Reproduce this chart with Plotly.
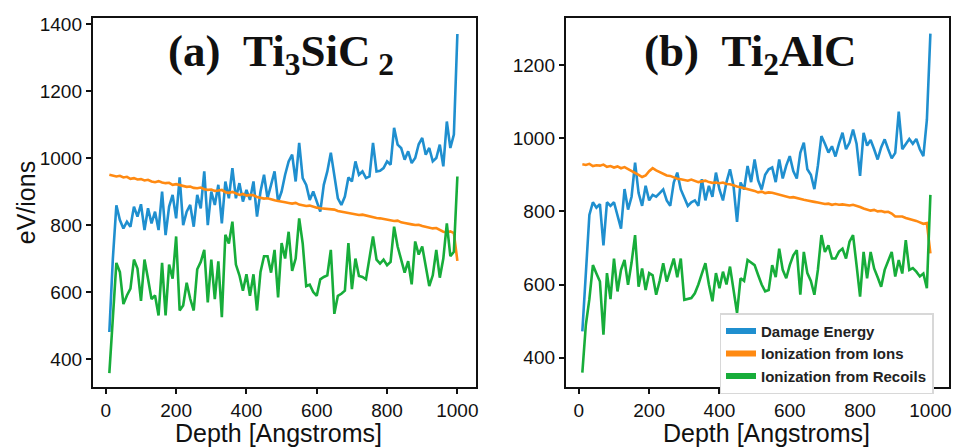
import plotly.graph_objects as go

depth = list(range(10, 1001, 10))

# (a) Ti3SiC2
damage_a = [481, 700, 859, 815, 790, 810, 795, 855, 825, 862,
            785, 850, 805, 840, 785, 900, 770, 855, 890, 820,
            942, 800, 840, 860, 795, 890, 850, 960, 800, 900,
            860, 920, 805, 930, 880, 970, 880, 925, 870, 905,
            875, 930, 825, 900, 950, 880, 920, 960, 870, 900,
            950, 990, 1010, 930, 1045, 940, 920, 875, 900, 870,
            840, 920, 960, 1016, 940, 880, 860, 885, 942, 930,
            990, 950, 960, 940, 945, 1045, 960, 962, 970, 990,
            980, 1090, 1040, 1030, 995, 1020, 985, 1000, 1041, 1060,
            1010, 1030, 990, 1000, 1040, 975, 1109, 1030, 1070, 1370]
ions_a = [950, 948, 945, 947, 942, 944, 938, 940, 936, 937,
          933, 935, 930, 928, 931, 927, 925, 926, 920, 922,
          919, 916, 914, 915, 911, 910, 912, 907, 905, 906,
          902, 903, 905, 898, 896, 899, 894, 890, 893, 888,
          890, 889, 884, 882, 879, 880, 876, 874, 872, 871,
          868, 866, 864, 866, 861, 859, 857, 858, 854, 852,
          850, 849, 847, 845, 846, 842, 840, 838, 837, 835,
          833, 830, 831, 828, 825, 824, 821, 820, 818, 816,
          815, 812, 813, 808, 806, 805, 802, 800, 801, 797,
          795, 793, 790, 791, 786, 780, 778, 781, 776, 693]
recoils_a = [358, 530, 687, 660, 564, 590, 610, 697, 670, 574,
             697, 640, 579, 590, 530, 687, 530, 682, 640, 766,
             545, 560, 628, 580, 545, 668, 690, 726, 569, 697,
             579, 692, 525, 771, 745, 810, 682, 650, 604, 653,
             589, 653, 545, 660, 707, 707, 658, 726, 584, 746,
             700, 780, 663, 700, 820, 745, 618, 622, 600, 589,
             638, 645, 650, 726, 535, 589, 595, 604, 746, 609,
             700, 648, 645, 638, 700, 766, 697, 685, 697, 680,
             690, 795, 736, 700, 658, 692, 623, 751, 712, 736,
             680, 618, 650, 726, 643, 700, 805, 707, 720, 945]

# (b) Ti2AlC
damage_b = [472, 640, 790, 825, 810, 820, 707, 825, 815, 825,
            790, 753, 861, 805, 840, 933, 850, 815, 870, 830,
            845, 840, 850, 860, 830, 815, 879, 906, 860, 835,
            815, 825, 830, 815, 888, 830, 870, 840, 906, 860,
            830, 880, 915, 870, 771, 879, 860, 924, 880, 942,
            885, 860, 900, 915, 920, 880, 942, 890, 925, 951,
            910, 890, 960, 988, 915, 900, 861, 925, 1006, 985,
            961, 978, 950, 985, 1015, 970, 988, 1024, 985, 897,
            1015, 980, 995, 970, 942, 975, 997, 970, 945, 960,
            1073, 970, 985, 998, 985, 998, 970, 951, 1050, 1286]
ions_b = [929, 927, 930, 924, 926, 925, 928, 922, 924, 920,
          923, 918, 921, 916, 912, 906, 900, 894, 898, 910,
          918, 912, 908, 904, 898, 897, 892, 889, 888, 885,
          884, 887, 884, 880, 882, 884, 880, 878, 879, 877,
          879, 875, 874, 870, 868, 866, 864, 862, 860, 856,
          852, 854, 850, 852, 851, 848, 846, 843, 840, 838,
          839, 836, 834, 832, 830, 829, 826, 824, 822, 820,
          821, 818, 820, 818, 819, 817, 816, 818, 816, 812,
          808, 806, 802, 804, 800, 801, 798, 799, 794, 786,
          785, 786, 782, 780, 778, 774, 770, 766, 768, 685]
recoils_b = [359, 490, 560, 653, 630, 608, 463, 631, 560, 671,
             581, 640, 667, 599, 660, 735, 594, 644, 585, 631,
             625, 572, 610, 658, 608, 640, 671, 620, 671, 558,
             560, 563, 576, 600, 630, 658, 600, 554, 631, 590,
             635, 600, 649, 580, 522, 617, 610, 667, 660, 653,
             626, 600, 581, 585, 653, 620, 698, 640, 617, 653,
             680, 694, 572, 689, 631, 610, 572, 640, 735, 689,
             707, 671, 671, 690, 698, 671, 717, 735, 653, 567,
             689, 617, 689, 644, 620, 594, 640, 662, 689, 622,
             667, 630, 721, 640, 645, 635, 622, 630, 590, 845]

series_names = ["Damage Energy", "Ionization from Ions", "Ionization from Recoils"]
colors = ["#1f8fcf", "#ff8a12", "#17ad3a"]
titles = ["<b>(a)&nbsp;&nbsp;Ti<sub>3</sub>SiC<sub> 2</sub></b>",
          "<b>(b)&nbsp;&nbsp;Ti<sub>2</sub>AlC</b>"]
x_tick_vals = [0, 200, 400, 600, 800, 1000]
y_tick_vals_a = [400, 600, 800, 1000, 1200, 1400]
y_tick_vals_b = [400, 600, 800, 1000, 1200]

# page body has an 8px margin; figure is sized to fit the window
W, H, OFF = 952, 439, 8


def px(x):
    return (x - OFF) / W


def py(y):
    return 1 - (y - OFF) / H


fig = go.Figure()

panels = [("x", "y", [damage_a, ions_a, recoils_a]),
          ("x2", "y2", [damage_b, ions_b, recoils_b])]
for xa, ya, data in panels:
    for name, vals, col in zip(series_names, data, colors):
        fig.add_trace(go.Scatter(x=depth, y=vals, mode="lines", name=name,
                                 line=dict(color=col, width=2.6),
                                 xaxis=xa, yaxis=ya, showlegend=False))

# legend entries (thicker swatches, shown in panel b)
for name, col in zip(series_names, colors):
    fig.add_trace(go.Scatter(x=[None], y=[None], mode="lines", name=name,
                             line=dict(color=col, width=6),
                             xaxis="x2", yaxis="y2", showlegend=True))

tickfont = dict(family="Liberation Sans, Arial, sans-serif", size=19, color="#111")
common_x = dict(range=[-37, 1053], tickvals=x_tick_vals, ticks="outside", ticklen=5,
                tickwidth=1.5, tickcolor="#111", showline=True, linecolor="#111",
                linewidth=2, mirror=True, showgrid=False, zeroline=False,
                tickfont=tickfont)
common_y = dict(ticks="outside", ticklen=5, tickwidth=1.5, tickcolor="#111",
                showline=True, linecolor="#111", linewidth=2, mirror=True,
                showgrid=False, zeroline=False, tickfont=tickfont)

ydom = [py(386.7), py(14)]
fig.update_layout(
    width=W, height=H,
    margin=dict(l=0, r=0, t=0, b=0),
    paper_bgcolor="white", plot_bgcolor="white",
    xaxis=dict(domain=[px(93), px(477)], anchor="y", **common_x),
    yaxis=dict(domain=ydom, anchor="x", range=[316, 1418],
               tickvals=y_tick_vals_a, **common_y),
    xaxis2=dict(domain=[px(567), px(951)], anchor="y2", **common_x),
    yaxis2=dict(domain=ydom, anchor="x2", range=[319, 1329],
                tickvals=y_tick_vals_b, **common_y),
    legend=dict(x=px(721), y=py(312), xanchor="left", yanchor="top",
                bgcolor="white", bordercolor="#d8d8d8", borderwidth=1.5,
                font=dict(family="Liberation Sans, Arial, sans-serif", size=15,
                          color="#222", weight="bold"),
                itemwidth=30, tracegroupgap=0),
    showlegend=True,
)

title_font = dict(family="Liberation Serif, Times New Roman, serif", size=45, color="#111")
axis_title_font = dict(family="Liberation Sans, Arial, sans-serif", size=25, color="#111")
fig.add_annotation(text=titles[0], xref="paper", yref="paper", x=px(282), y=py(50),
                   showarrow=False, font=title_font, xanchor="center", yanchor="middle")
fig.add_annotation(text=titles[1], xref="paper", yref="paper", x=px(752), y=py(50),
                   showarrow=False, font=title_font, xanchor="center", yanchor="middle")
fig.add_annotation(text="Depth [Angstroms]", xref="paper", yref="paper", x=px(279),
                   y=py(433), showarrow=False, font=axis_title_font,
                   xanchor="center", yanchor="middle")
fig.add_annotation(text="Depth [Angstroms]", xref="paper", yref="paper", x=px(768),
                   y=py(433), showarrow=False, font=axis_title_font,
                   xanchor="center", yanchor="middle")
fig.add_annotation(text="eV/ions", xref="paper", yref="paper", x=px(26),
                   y=py(200), showarrow=False, font=axis_title_font, textangle=-90,
                   xanchor="center", yanchor="middle")

fig.write_html("out.html")
